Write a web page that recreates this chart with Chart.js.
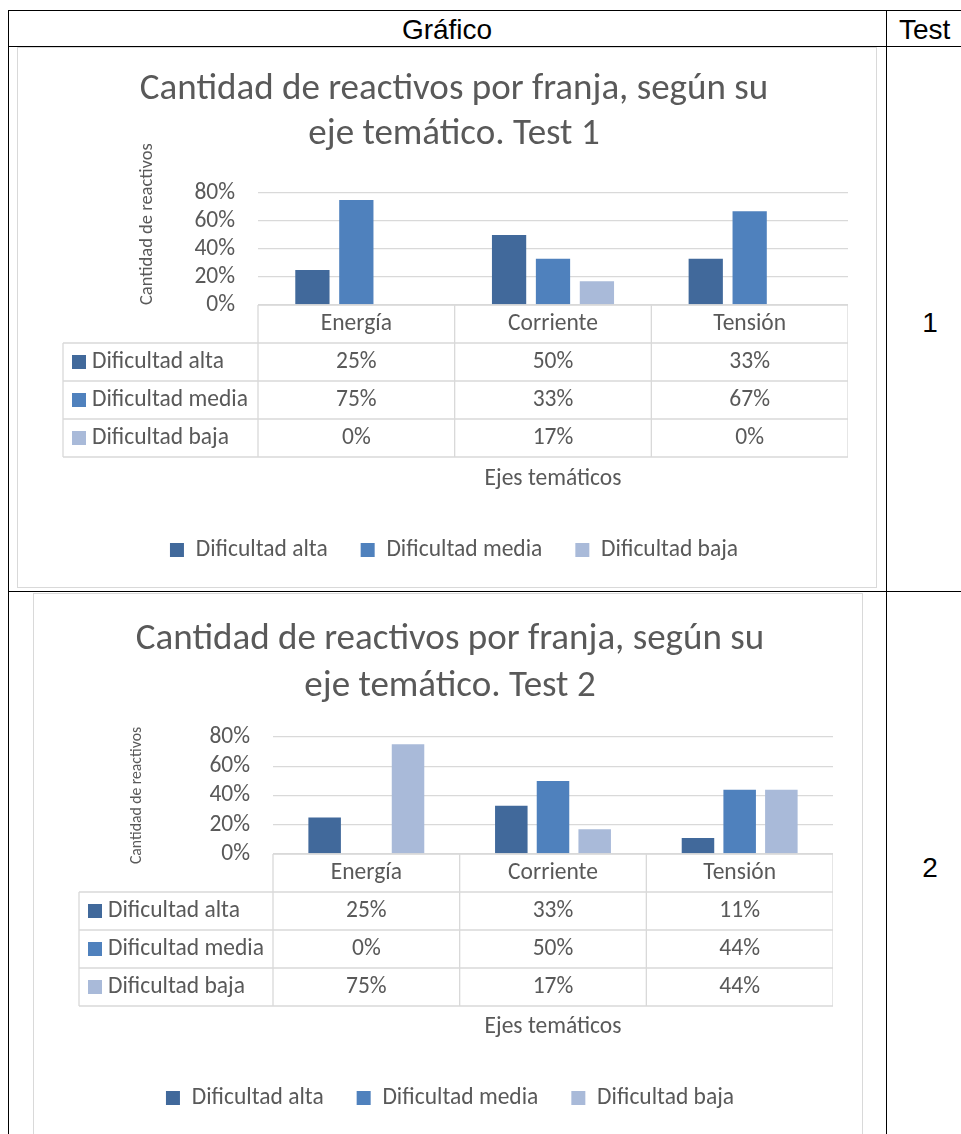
<!DOCTYPE html>
<html lang="es">
<head>
<meta charset="utf-8">
<title>Cantidad de reactivos por franja</title>
<script src="https://cdn.jsdelivr.net/npm/chart.js@4.4.1/dist/chart.umd.min.js"></script>
<style>
  html, body { margin: 0; padding: 0; background: #fff; }
  body { position: relative; width: 961px; height: 1134px; overflow: hidden;
         font-family: "Liberation Sans", Arial, sans-serif; color: #000; }
  .rule { position: absolute; background: #000; }
  .frame { position: absolute; border: 1px solid #d9d9d9; box-sizing: border-box; }
  .cell-text { position: absolute; font-size: 28px; line-height: 1; white-space: nowrap; }
  canvas { position: absolute; }
</style>
</head>
<body>
  <!-- outer table rules -->
  <div class="rule" style="left:8px; top:10px; width:953px; height:1px;"></div>
  <div class="rule" style="left:8px; top:46px; width:953px; height:1px;"></div>
  <div class="rule" style="left:8px; top:591px; width:953px; height:1px;"></div>
  <div class="rule" style="left:8px; top:10px; width:1px; height:1124px;"></div>
  <div class="rule" style="left:886px; top:10px; width:1px; height:1124px;"></div>

  <div class="cell-text" style="left:8px; width:878px; top:16px; text-align:center;">Gráfico</div>
  <div class="cell-text" style="left:899px; top:16px;">Test</div>
  <div class="cell-text" style="left:887px; width:86px; top:309px; text-align:center;">1</div>
  <div class="cell-text" style="left:887px; width:86px; top:854px; text-align:center;">2</div>

  <!-- chart frames -->
  <div class="frame" style="left:17px; top:47px; width:860px; height:541px;"></div>
  <div class="frame" style="left:33px; top:593px; width:830px; height:560px;"></div>

  <canvas id="chartTest1" width="788" height="539" style="left:60px; top:48px; width:788px; height:539px;"></canvas>
  <canvas id="chartTest2" width="766" height="541" style="left:67px; top:594px; width:766px; height:541px;"></canvas>

<script>
// Ejes temáticos y franjas de dificultad
const categories = ['Energía', 'Corriente', 'Tensión'];
const seriesNames = ['Dificultad alta', 'Dificultad media', 'Dificultad baja'];

// Porcentaje de reactivos, Test 1
const test1Alta = [25, 50, 33];
const test1Media = [75, 33, 67];
const test1Baja = [0, 17, 0];

// Porcentaje de reactivos, Test 2
const test2Alta = [25, 33, 11];
const test2Media = [0, 50, 44];
const test2Baja = [75, 17, 44];

// Marcas del eje vertical
const yTicks = [0, 20, 40, 60, 80];

const seriesColors = ['#41699b', '#4f81bd', '#a9bad9'];
const TEXT = '#595959';
const GRID = '#d9d9d9';
const FAMILY = 'Carlito, Lato, "Open Sans", sans-serif';
const LABEL_SIZE = 23.5;

Chart.defaults.font.family = FAMILY;
Chart.defaults.color = TEXT;

// Tabla de datos bajo el eje de categorías, alineada con las columnas de la escala x
const dataTablePlugin = {
  id: 'dataTable',
  afterDraw(chart, args, opts) {
    const { ctx, chartArea: ca, scales: { x } } = chart;
    const n = chart.data.labels.length;
    const half = (x.getPixelForValue(1) - x.getPixelForValue(0)) / 2;
    const bounds = [];
    for (let i = 0; i < n; i++) bounds.push(x.getPixelForValue(i) - half);
    bounds.push(x.getPixelForValue(n - 1) + half);

    const rh = opts.rowHeight;
    const top = ca.bottom;
    const sets = chart.data.datasets;
    const bottom = top + rh * (sets.length + 1);
    const left = opts.labelLeft;

    ctx.save();
    ctx.strokeStyle = GRID;
    ctx.lineWidth = 1.3;
    ctx.beginPath();
    bounds.forEach(bx => { ctx.moveTo(bx, top); ctx.lineTo(bx, bottom); });
    ctx.moveTo(left, top + rh); ctx.lineTo(left, bottom);
    ctx.moveTo(bounds[0], top); ctx.lineTo(bounds[n], top);
    for (let r = 1; r <= sets.length + 1; r++) {
      ctx.moveTo(left, top + r * rh); ctx.lineTo(bounds[n], top + r * rh);
    }
    ctx.stroke();

    ctx.fillStyle = TEXT;
    ctx.font = `${opts.fontSize}px ${FAMILY}`;
    ctx.textBaseline = 'middle';
    ctx.textAlign = 'center';
    chart.data.labels.forEach((lab, i) => {
      ctx.fillText(lab, x.getPixelForValue(i), top + rh / 2);
    });
    sets.forEach((ds, r) => {
      const cy = top + rh * (r + 1) + rh / 2;
      ctx.textAlign = 'center';
      ctx.fillStyle = TEXT;
      ds.data.forEach((v, i) => ctx.fillText(v + '%', x.getPixelForValue(i), cy));
      ctx.fillStyle = ds.backgroundColor;
      ctx.fillRect(left + 9, cy - 7, 14, 14);
      ctx.fillStyle = TEXT;
      ctx.textAlign = 'left';
      ctx.fillText(ds.label, left + 29, cy);
    });
    ctx.restore();
  }
};

function drawChart(canvasId, title, series, L) {
  return new Chart(document.getElementById(canvasId), {
    type: 'bar',
    data: {
      labels: categories,
      datasets: series.map((values, i) => ({
        label: seriesNames[i],
        data: values,
        backgroundColor: seriesColors[i],
        borderWidth: 0,
        categoryPercentage: 0.67,
        barPercentage: 0.78
      }))
    },
    options: {
      responsive: false,
      animation: false,
      devicePixelRatio: 1,
      layout: { padding: { left: 0, right: 0, top: 0, bottom: L.padBottom } },
      plugins: {
        title: {
          display: true,
          text: title,
          color: TEXT,
          font: { size: 37, weight: 'normal', lineHeight: L.titleLH },
          padding: { top: L.titleTop, bottom: L.titleBottom }
        },
        legend: {
          position: 'bottom',
          labels: { color: TEXT, font: { size: LABEL_SIZE }, boxWidth: 14, boxHeight: 14, padding: 33 }
        },
        tooltip: { enabled: false },
        dataTable: { rowHeight: 38, labelLeft: L.labelLeft, fontSize: LABEL_SIZE }
      },
      scales: {
        y: {
          min: 0,
          max: 80,
          afterBuildTicks: s => { s.ticks = yTicks.map(v => ({ value: v })); },
          afterFit: s => { s.width = L.yWidth; },
          ticks: { callback: v => v + '%', color: TEXT, font: { size: LABEL_SIZE }, padding: 23, autoSkip: false },
          grid: { color: GRID, lineWidth: 1.3, drawTicks: false },
          border: { display: false },
          title: {
            display: true,
            text: 'Cantidad de reactivos',
            color: TEXT,
            align: L.yTitleAlign,
            font: { size: L.yTitleSize, lineHeight: 1.2 },
            padding: { top: L.yTitleTop, bottom: 0 }
          }
        },
        x: {
          afterFit: s => { s.height = L.xHeight; },
          ticks: { display: false },
          grid: { display: false },
          border: { display: false },
          title: {
            display: true,
            text: 'Ejes temáticos',
            color: TEXT,
            font: { size: LABEL_SIZE, lineHeight: 1.2 },
            padding: { top: 0, bottom: L.xTitleBottom }
          }
        }
      }
    },
    plugins: [dataTablePlugin]
  });
}

drawChart('chartTest1',
  ['Cantidad de reactivos por franja, según su', 'eje temático. Test 1'],
  [test1Alta, test1Media, test1Baja],
  { padBottom: 15.25, titleLH: 45 / 37, titleTop: 19.5, titleBottom: 35.5,
    labelLeft: 3, yWidth: 198, yTitleAlign: 'start', yTitleSize: 18.5, yTitleTop: 75.9,
    xHeight: 200.25, xTitleBottom: 12.15 });

drawChart('chartTest2',
  ['Cantidad de reactivos por franja, según su', 'eje temático. Test 2'],
  [test2Alta, test2Media, test2Baja],
  { padBottom: 15.25, titleLH: 47 / 37, titleTop: 22.5, titleBottom: 26.5,
    labelLeft: 12, yWidth: 206, yTitleAlign: 'center', yTitleSize: 15.7, yTitleTop: 60.6,
    xHeight: 199.25, xTitleBottom: 12.15 });
</script>
</body>
</html>
